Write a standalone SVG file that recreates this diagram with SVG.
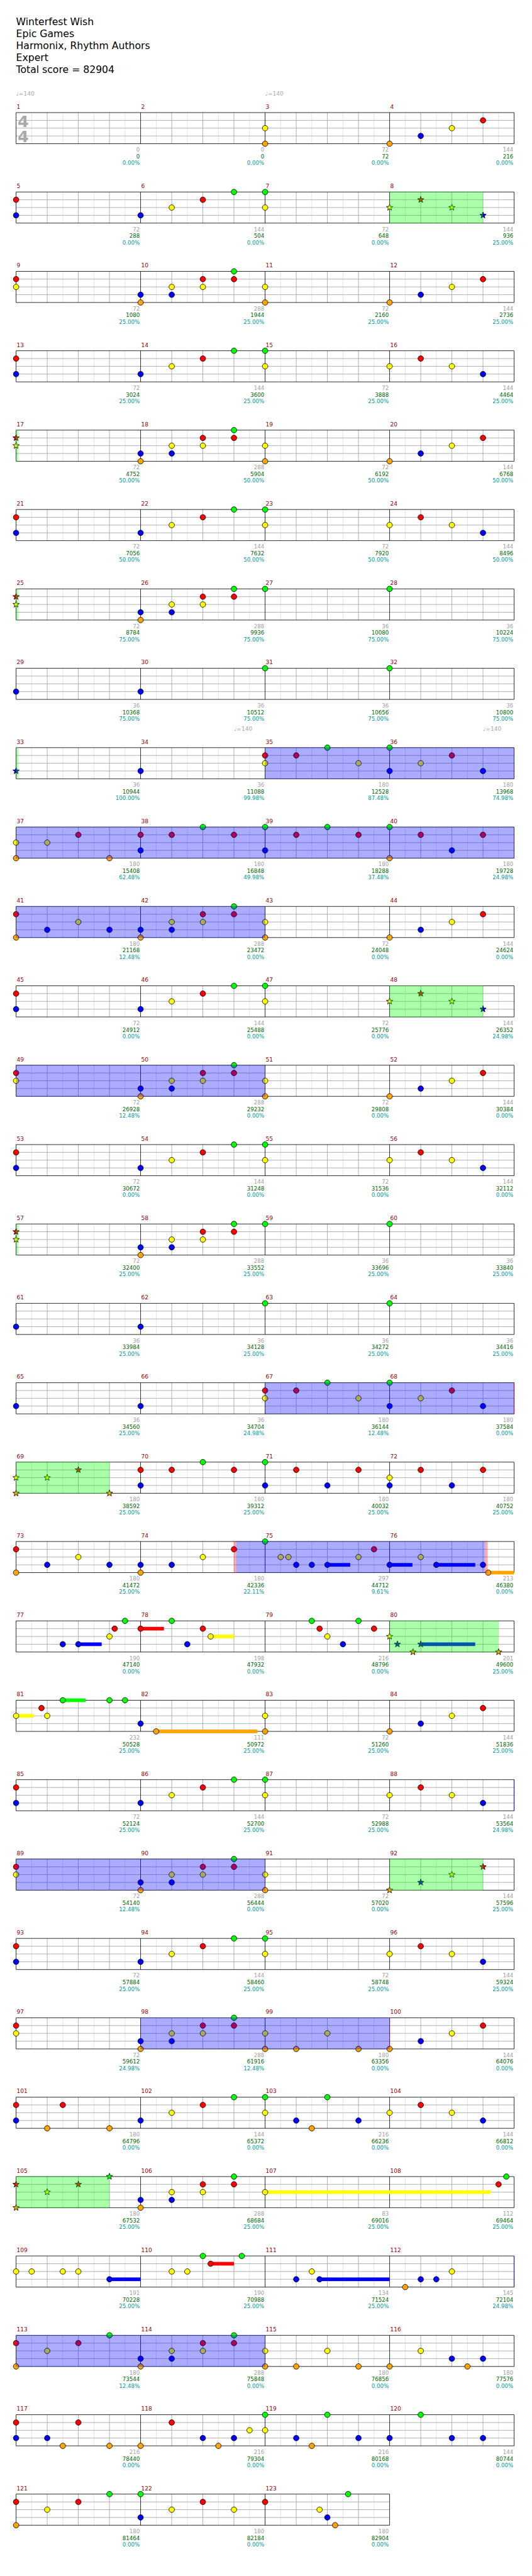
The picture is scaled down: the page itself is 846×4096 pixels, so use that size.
<svg xmlns="http://www.w3.org/2000/svg" width="846" height="4096" viewBox="0 0 846 4096">
<style>
text{font-family:"DejaVu Sans",Verdana,sans-serif}
.t{font-size:19px;fill:#000}
.mn{font-size:11px;fill:#990000}
.n{font-size:10.5px;text-anchor:end}
.a{fill:#a0a0a0}.b{fill:#006600}.c{fill:#009999}
.tp{font-size:11px;fill:#a8a8a8}
.ts{font-size:31px;font-weight:bold;fill:#aaaaaa}
.lt{stroke:#dddddd;stroke-width:1;fill:none}
.gr{stroke:#a0a0a0;stroke-width:1;fill:none}
.bk{stroke:#000;stroke-width:1;fill:none}
.sp{fill:#0000ff;fill-opacity:.33}
.ph{fill:#00ff00;fill-opacity:.33}
.pk{fill:#ff0000;fill-opacity:.33}
</style>
<defs>
<g id="s4">
<path class="lt" d="M30 0V60M90 0V60M150 0V60M210 0V60M270 0V60M330 0V60M390 0V60M450 0V60M510 0V60M570 0V60M630 0V60M690 0V60M750 0V60M810 0V60M870 0V60M930 0V60"/>
<path class="gr" d="M60 0V60M120 0V60M180 0V60M300 0V60M360 0V60M420 0V60M540 0V60M600 0V60M660 0V60M780 0V60M840 0V60M900 0V60M0 15H960M0 30H960M0 45H960"/>
<path class="bk" d="M0 0H960V60H0ZM240 0V60M480 0V60M720 0V60"/>
</g>
<g id="s3">
<path class="lt" d="M30 0V60M90 0V60M150 0V60M210 0V60M270 0V60M330 0V60M390 0V60M450 0V60M510 0V60M570 0V60M630 0V60M690 0V60"/>
<path class="gr" d="M60 0V60M120 0V60M180 0V60M300 0V60M360 0V60M420 0V60M540 0V60M600 0V60M660 0V60M0 15H720M0 30H720M0 45H720"/>
<path class="bk" d="M0 0H720V60H0ZM240 0V60M480 0V60"/>
</g>
<circle id="g" r="5.3" fill="#00ff00" stroke="#000"/>
<circle id="r" r="5.3" fill="#ff0000" stroke="#000"/>
<circle id="y" r="5.3" fill="#ffff00" stroke="#000"/>
<circle id="b" r="5.3" fill="#0000ff" stroke="#000"/>
<circle id="o" r="5.3" fill="#ffa500" stroke="#000"/>
<path id="Sg" fill="#00ff00" stroke="#000" d="M0-6.5L1.59-2.18L6.18-2.01L2.57.83L3.82 5.26L0 2.7L-3.82 5.26L-2.57.83L-6.18-2.01L-1.59-2.18Z"/>
<path id="Sr" fill="#ff0000" stroke="#000" d="M0-6.5L1.59-2.18L6.18-2.01L2.57.83L3.82 5.26L0 2.7L-3.82 5.26L-2.57.83L-6.18-2.01L-1.59-2.18Z"/>
<path id="Sy" fill="#ffff00" stroke="#000" d="M0-6.5L1.59-2.18L6.18-2.01L2.57.83L3.82 5.26L0 2.7L-3.82 5.26L-2.57.83L-6.18-2.01L-1.59-2.18Z"/>
<path id="Sb" fill="#0000ff" stroke="#000" d="M0-6.5L1.59-2.18L6.18-2.01L2.57.83L3.82 5.26L0 2.7L-3.82 5.26L-2.57.83L-6.18-2.01L-1.59-2.18Z"/>
<path id="So" fill="#ffa500" stroke="#000" d="M0-6.5L1.59-2.18L6.18-2.01L2.57.83L3.82 5.26L0 2.7L-3.82 5.26L-2.57.83L-6.18-2.01L-1.59-2.18Z"/>
<g id="P3"><use href="#r" x="0" y="15"/><use href="#b" x="0" y="45"/><use href="#b" x="240" y="45"/><use href="#y" x="300" y="30"/><use href="#r" x="360" y="15"/><use href="#g" x="420" y="0"/><use href="#g" x="480" y="0"/><use href="#y" x="480" y="30"/><use href="#y" x="720" y="30"/><use href="#r" x="780" y="15"/><use href="#y" x="840" y="30"/><use href="#b" x="900" y="45"/></g>
<g id="PC"><use href="#b" x="240" y="45"/><use href="#o" x="240" y="60"/><use href="#y" x="300" y="30"/><use href="#b" x="300" y="45"/><use href="#r" x="360" y="15"/><use href="#y" x="360" y="30"/><use href="#g" x="420" y="0"/><use href="#r" x="420" y="15"/></g>
<g id="PT"><use href="#y" x="480" y="30"/><use href="#o" x="480" y="60"/><use href="#o" x="720" y="60"/><use href="#b" x="780" y="45"/><use href="#y" x="840" y="30"/><use href="#r" x="900" y="15"/></g>
</defs>
<rect width="846" height="4096" fill="#fff"/>
<g transform="scale(0.825)">
<g id="title">
<text class="t" x="31" y="49">Winterfest Wish</text>
<text class="t" x="31" y="72">Epic Games</text>
<text class="t" x="31" y="95">Harmonix, Rhythm Authors</text>
<text class="t" x="31" y="118">Expert</text>
<text class="t" x="31" y="141">Total score = 82904</text>
</g>

<g id="row-0" transform="translate(31,217)">
<use href="#s4"/>
<text class="ts" x="3" y="28">4</text><text class="ts" x="3" y="57">4</text>
<text class="tp" x="0" y="-33">♩=140</text><text class="tp" x="480" y="-33">♩=140</text>
<text class="mn" x="1" y="-7.5">1</text><text class="mn" x="241" y="-7.5">2</text><text class="mn" x="481" y="-7.5">3</text><text class="mn" x="721" y="-7.5">4</text>
<use href="#y" x="480" y="30"/><use href="#o" x="480" y="60"/><use href="#o" x="720" y="60"/><use href="#b" x="780" y="45"/><use href="#y" x="840" y="30"/><use href="#r" x="900" y="15"/>
<text class="n a" x="238.5" y="75.5">0</text><text class="n b" x="238.5" y="88.5">0</text><text class="n c" x="238.5" y="101">0.00%</text>
<text class="n a" x="478.5" y="75.5">0</text><text class="n b" x="478.5" y="88.5">0</text><text class="n c" x="478.5" y="101">0.00%</text>
<text class="n a" x="718.5" y="75.5">72</text><text class="n b" x="718.5" y="88.5">72</text><text class="n c" x="718.5" y="101">0.00%</text>
<text class="n a" x="958.5" y="75.5">144</text><text class="n b" x="958.5" y="88.5">216</text><text class="n c" x="958.5" y="101">0.00%</text>
</g>

<g id="row-1" transform="translate(31,370)">
<use href="#s4"/>
<text class="mn" x="1" y="-7.5">5</text><text class="mn" x="241" y="-7.5">6</text><text class="mn" x="481" y="-7.5">7</text><text class="mn" x="721" y="-7.5">8</text>
<use href="#r" x="0" y="15"/><use href="#b" x="0" y="45"/><use href="#b" x="240" y="45"/><use href="#y" x="300" y="30"/><use href="#r" x="360" y="15"/><use href="#g" x="420" y="0"/><use href="#g" x="480" y="0"/><use href="#y" x="480" y="30"/>
<use href="#Sy" x="720" y="30"/><use href="#Sr" x="780" y="15"/><use href="#Sy" x="840" y="30"/><use href="#Sb" x="900" y="45"/>
<rect class="ph" x="720" y="-0.5" width="180" height="61"/>
<text class="n a" x="238.5" y="75.5">72</text><text class="n b" x="238.5" y="88.5">288</text><text class="n c" x="238.5" y="101">0.00%</text>
<text class="n a" x="478.5" y="75.5">144</text><text class="n b" x="478.5" y="88.5">504</text><text class="n c" x="478.5" y="101">0.00%</text>
<text class="n a" x="718.5" y="75.5">72</text><text class="n b" x="718.5" y="88.5">648</text><text class="n c" x="718.5" y="101">0.00%</text>
<text class="n a" x="958.5" y="75.5">144</text><text class="n b" x="958.5" y="88.5">936</text><text class="n c" x="958.5" y="101">25.00%</text>
</g>

<g id="row-2" transform="translate(31,523)">
<use href="#s4"/>
<text class="mn" x="1" y="-7.5">9</text><text class="mn" x="241" y="-7.5">10</text><text class="mn" x="481" y="-7.5">11</text><text class="mn" x="721" y="-7.5">12</text>
<use href="#r" x="0" y="15"/><use href="#y" x="0" y="30"/><use href="#PC"/><use href="#PT"/>
<text class="n a" x="238.5" y="75.5">72</text><text class="n b" x="238.5" y="88.5">1080</text><text class="n c" x="238.5" y="101">25.00%</text>
<text class="n a" x="478.5" y="75.5">288</text><text class="n b" x="478.5" y="88.5">1944</text><text class="n c" x="478.5" y="101">25.00%</text>
<text class="n a" x="718.5" y="75.5">72</text><text class="n b" x="718.5" y="88.5">2160</text><text class="n c" x="718.5" y="101">25.00%</text>
<text class="n a" x="958.5" y="75.5">144</text><text class="n b" x="958.5" y="88.5">2736</text><text class="n c" x="958.5" y="101">25.00%</text>
</g>

<g id="row-3" transform="translate(31,676)">
<use href="#s4"/>
<text class="mn" x="1" y="-7.5">13</text><text class="mn" x="241" y="-7.5">14</text><text class="mn" x="481" y="-7.5">15</text><text class="mn" x="721" y="-7.5">16</text>
<use href="#P3"/>
<text class="n a" x="238.5" y="75.5">72</text><text class="n b" x="238.5" y="88.5">3024</text><text class="n c" x="238.5" y="101">25.00%</text>
<text class="n a" x="478.5" y="75.5">144</text><text class="n b" x="478.5" y="88.5">3600</text><text class="n c" x="478.5" y="101">25.00%</text>
<text class="n a" x="718.5" y="75.5">72</text><text class="n b" x="718.5" y="88.5">3888</text><text class="n c" x="718.5" y="101">25.00%</text>
<text class="n a" x="958.5" y="75.5">144</text><text class="n b" x="958.5" y="88.5">4464</text><text class="n c" x="958.5" y="101">25.00%</text>
</g>

<g id="row-4" transform="translate(31,829)">
<use href="#s4"/>
<text class="mn" x="1" y="-7.5">17</text><text class="mn" x="241" y="-7.5">18</text><text class="mn" x="481" y="-7.5">19</text><text class="mn" x="721" y="-7.5">20</text>
<use href="#Sr" x="0" y="15"/><use href="#Sy" x="0" y="30"/><use href="#PC"/><use href="#PT"/>
<rect class="ph" x="0" y="-0.5" width="4" height="61"/>
<text class="n a" x="238.5" y="75.5">72</text><text class="n b" x="238.5" y="88.5">4752</text><text class="n c" x="238.5" y="101">50.00%</text>
<text class="n a" x="478.5" y="75.5">288</text><text class="n b" x="478.5" y="88.5">5904</text><text class="n c" x="478.5" y="101">50.00%</text>
<text class="n a" x="718.5" y="75.5">72</text><text class="n b" x="718.5" y="88.5">6192</text><text class="n c" x="718.5" y="101">50.00%</text>
<text class="n a" x="958.5" y="75.5">144</text><text class="n b" x="958.5" y="88.5">6768</text><text class="n c" x="958.5" y="101">50.00%</text>
</g>

<g id="row-5" transform="translate(31,982)">
<use href="#s4"/>
<text class="mn" x="1" y="-7.5">21</text><text class="mn" x="241" y="-7.5">22</text><text class="mn" x="481" y="-7.5">23</text><text class="mn" x="721" y="-7.5">24</text>
<use href="#P3"/>
<text class="n a" x="238.5" y="75.5">72</text><text class="n b" x="238.5" y="88.5">7056</text><text class="n c" x="238.5" y="101">50.00%</text>
<text class="n a" x="478.5" y="75.5">144</text><text class="n b" x="478.5" y="88.5">7632</text><text class="n c" x="478.5" y="101">50.00%</text>
<text class="n a" x="718.5" y="75.5">72</text><text class="n b" x="718.5" y="88.5">7920</text><text class="n c" x="718.5" y="101">50.00%</text>
<text class="n a" x="958.5" y="75.5">144</text><text class="n b" x="958.5" y="88.5">8496</text><text class="n c" x="958.5" y="101">50.00%</text>
</g>

<g id="row-6" transform="translate(31,1135)">
<use href="#s4"/>
<text class="mn" x="1" y="-7.5">25</text><text class="mn" x="241" y="-7.5">26</text><text class="mn" x="481" y="-7.5">27</text><text class="mn" x="721" y="-7.5">28</text>
<use href="#Sr" x="0" y="15"/><use href="#Sy" x="0" y="30"/><use href="#PC"/><use href="#g" x="480" y="0"/><use href="#g" x="720" y="0"/>
<rect class="ph" x="0" y="-0.5" width="4" height="61"/>
<text class="n a" x="238.5" y="75.5">72</text><text class="n b" x="238.5" y="88.5">8784</text><text class="n c" x="238.5" y="101">75.00%</text>
<text class="n a" x="478.5" y="75.5">288</text><text class="n b" x="478.5" y="88.5">9936</text><text class="n c" x="478.5" y="101">75.00%</text>
<text class="n a" x="718.5" y="75.5">36</text><text class="n b" x="718.5" y="88.5">10080</text><text class="n c" x="718.5" y="101">75.00%</text>
<text class="n a" x="958.5" y="75.5">36</text><text class="n b" x="958.5" y="88.5">10224</text><text class="n c" x="958.5" y="101">75.00%</text>
</g>

<g id="row-7" transform="translate(31,1288)">
<use href="#s4"/>
<text class="mn" x="1" y="-7.5">29</text><text class="mn" x="241" y="-7.5">30</text><text class="mn" x="481" y="-7.5">31</text><text class="mn" x="721" y="-7.5">32</text>
<use href="#b" x="0" y="45"/><use href="#b" x="240" y="45"/><use href="#g" x="480" y="0"/><use href="#g" x="720" y="0"/>
<text class="n a" x="238.5" y="75.5">36</text><text class="n b" x="238.5" y="88.5">10368</text><text class="n c" x="238.5" y="101">75.00%</text>
<text class="n a" x="478.5" y="75.5">36</text><text class="n b" x="478.5" y="88.5">10512</text><text class="n c" x="478.5" y="101">75.00%</text>
<text class="n a" x="718.5" y="75.5">36</text><text class="n b" x="718.5" y="88.5">10656</text><text class="n c" x="718.5" y="101">75.00%</text>
<text class="n a" x="958.5" y="75.5">36</text><text class="n b" x="958.5" y="88.5">10800</text><text class="n c" x="958.5" y="101">75.00%</text>
</g>

<g id="row-8" transform="translate(31,1441)">
<use href="#s4"/>
<text class="tp" x="420" y="-33">♩=140</text><text class="tp" x="900" y="-33">♩=140</text>
<text class="mn" x="1" y="-7.5">33</text><text class="mn" x="241" y="-7.5">34</text><text class="mn" x="481" y="-7.5">35</text><text class="mn" x="721" y="-7.5">36</text>
<use href="#Sb" x="0" y="45"/><use href="#b" x="240" y="45"/>
<use href="#r" x="480" y="15"/><use href="#y" x="480" y="30"/><use href="#r" x="540" y="15"/><use href="#g" x="600" y="0"/><use href="#y" x="660" y="30"/><use href="#g" x="720" y="0"/><use href="#b" x="720" y="45"/><use href="#y" x="780" y="30"/><use href="#r" x="840" y="15"/><use href="#b" x="900" y="45"/>
<rect class="ph" x="0" y="-0.5" width="4" height="61"/>
<rect class="sp" x="480" y="-0.5" width="480" height="61"/>
<text class="n a" x="238.5" y="75.5">36</text><text class="n b" x="238.5" y="88.5">10944</text><text class="n c" x="238.5" y="101">100.00%</text>
<text class="n a" x="478.5" y="75.5">36</text><text class="n b" x="478.5" y="88.5">11088</text><text class="n c" x="478.5" y="101">99.98%</text>
<text class="n a" x="718.5" y="75.5">180</text><text class="n b" x="718.5" y="88.5">12528</text><text class="n c" x="718.5" y="101">87.48%</text>
<text class="n a" x="958.5" y="75.5">180</text><text class="n b" x="958.5" y="88.5">13968</text><text class="n c" x="958.5" y="101">74.98%</text>
</g>

<g id="row-9" transform="translate(31,1594)">
<use href="#s4"/>
<text class="mn" x="1" y="-7.5">37</text><text class="mn" x="241" y="-7.5">38</text><text class="mn" x="481" y="-7.5">39</text><text class="mn" x="721" y="-7.5">40</text>
<use href="#y" x="0" y="30"/><use href="#o" x="0" y="60"/><use href="#y" x="60" y="30"/><use href="#r" x="120" y="15"/><use href="#o" x="180" y="60"/><use href="#r" x="240" y="15"/><use href="#b" x="240" y="45"/><use href="#r" x="300" y="15"/><use href="#g" x="360" y="0"/><use href="#r" x="420" y="15"/><use href="#g" x="480" y="0"/><use href="#b" x="480" y="45"/><use href="#r" x="540" y="15"/><use href="#g" x="600" y="0"/><use href="#r" x="660" y="15"/><use href="#g" x="720" y="0"/><use href="#o" x="720" y="60"/><use href="#r" x="780" y="15"/><use href="#b" x="840" y="45"/><use href="#r" x="900" y="15"/>
<rect class="sp" x="0" y="-0.5" width="960" height="61"/>
<text class="n a" x="238.5" y="75.5">180</text><text class="n b" x="238.5" y="88.5">15408</text><text class="n c" x="238.5" y="101">62.48%</text>
<text class="n a" x="478.5" y="75.5">180</text><text class="n b" x="478.5" y="88.5">16848</text><text class="n c" x="478.5" y="101">49.98%</text>
<text class="n a" x="718.5" y="75.5">180</text><text class="n b" x="718.5" y="88.5">18288</text><text class="n c" x="718.5" y="101">37.48%</text>
<text class="n a" x="958.5" y="75.5">180</text><text class="n b" x="958.5" y="88.5">19728</text><text class="n c" x="958.5" y="101">24.98%</text>
</g>

<g id="row-10" transform="translate(31,1747)">
<use href="#s4"/>
<text class="mn" x="1" y="-7.5">41</text><text class="mn" x="241" y="-7.5">42</text><text class="mn" x="481" y="-7.5">43</text><text class="mn" x="721" y="-7.5">44</text>
<use href="#r" x="0" y="15"/><use href="#o" x="0" y="60"/><use href="#b" x="60" y="45"/><use href="#y" x="120" y="30"/><use href="#b" x="180" y="45"/><use href="#PC"/><use href="#PT"/>
<rect class="sp" x="0" y="-0.5" width="480" height="61"/>
<text class="n a" x="238.5" y="75.5">180</text><text class="n b" x="238.5" y="88.5">21168</text><text class="n c" x="238.5" y="101">12.48%</text>
<text class="n a" x="478.5" y="75.5">288</text><text class="n b" x="478.5" y="88.5">23472</text><text class="n c" x="478.5" y="101">0.00%</text>
<text class="n a" x="718.5" y="75.5">72</text><text class="n b" x="718.5" y="88.5">24048</text><text class="n c" x="718.5" y="101">0.00%</text>
<text class="n a" x="958.5" y="75.5">144</text><text class="n b" x="958.5" y="88.5">24624</text><text class="n c" x="958.5" y="101">0.00%</text>
</g>

<g id="row-11" transform="translate(31,1900)">
<use href="#s4"/>
<text class="mn" x="1" y="-7.5">45</text><text class="mn" x="241" y="-7.5">46</text><text class="mn" x="481" y="-7.5">47</text><text class="mn" x="721" y="-7.5">48</text>
<use href="#r" x="0" y="15"/><use href="#b" x="0" y="45"/><use href="#b" x="240" y="45"/><use href="#y" x="300" y="30"/><use href="#r" x="360" y="15"/><use href="#g" x="420" y="0"/><use href="#g" x="480" y="0"/><use href="#y" x="480" y="30"/>
<use href="#Sy" x="720" y="30"/><use href="#Sr" x="780" y="15"/><use href="#Sy" x="840" y="30"/><use href="#Sb" x="900" y="45"/>
<rect class="ph" x="720" y="-0.5" width="180" height="61"/>
<text class="n a" x="238.5" y="75.5">72</text><text class="n b" x="238.5" y="88.5">24912</text><text class="n c" x="238.5" y="101">0.00%</text>
<text class="n a" x="478.5" y="75.5">144</text><text class="n b" x="478.5" y="88.5">25488</text><text class="n c" x="478.5" y="101">0.00%</text>
<text class="n a" x="718.5" y="75.5">72</text><text class="n b" x="718.5" y="88.5">25776</text><text class="n c" x="718.5" y="101">0.00%</text>
<text class="n a" x="958.5" y="75.5">144</text><text class="n b" x="958.5" y="88.5">26352</text><text class="n c" x="958.5" y="101">24.98%</text>
</g>

<g id="row-12" transform="translate(31,2053)">
<use href="#s4"/>
<text class="mn" x="1" y="-7.5">49</text><text class="mn" x="241" y="-7.5">50</text><text class="mn" x="481" y="-7.5">51</text><text class="mn" x="721" y="-7.5">52</text>
<use href="#r" x="0" y="15"/><use href="#y" x="0" y="30"/><use href="#PC"/><use href="#PT"/>
<rect class="sp" x="0" y="-0.5" width="480" height="61"/>
<text class="n a" x="238.5" y="75.5">72</text><text class="n b" x="238.5" y="88.5">26928</text><text class="n c" x="238.5" y="101">12.48%</text>
<text class="n a" x="478.5" y="75.5">288</text><text class="n b" x="478.5" y="88.5">29232</text><text class="n c" x="478.5" y="101">0.00%</text>
<text class="n a" x="718.5" y="75.5">72</text><text class="n b" x="718.5" y="88.5">29808</text><text class="n c" x="718.5" y="101">0.00%</text>
<text class="n a" x="958.5" y="75.5">144</text><text class="n b" x="958.5" y="88.5">30384</text><text class="n c" x="958.5" y="101">0.00%</text>
</g>

<g id="row-13" transform="translate(31,2206)">
<use href="#s4"/>
<text class="mn" x="1" y="-7.5">53</text><text class="mn" x="241" y="-7.5">54</text><text class="mn" x="481" y="-7.5">55</text><text class="mn" x="721" y="-7.5">56</text>
<use href="#P3"/>
<text class="n a" x="238.5" y="75.5">72</text><text class="n b" x="238.5" y="88.5">30672</text><text class="n c" x="238.5" y="101">0.00%</text>
<text class="n a" x="478.5" y="75.5">144</text><text class="n b" x="478.5" y="88.5">31248</text><text class="n c" x="478.5" y="101">0.00%</text>
<text class="n a" x="718.5" y="75.5">72</text><text class="n b" x="718.5" y="88.5">31536</text><text class="n c" x="718.5" y="101">0.00%</text>
<text class="n a" x="958.5" y="75.5">144</text><text class="n b" x="958.5" y="88.5">32112</text><text class="n c" x="958.5" y="101">0.00%</text>
</g>

<g id="row-14" transform="translate(31,2359)">
<use href="#s4"/>
<text class="mn" x="1" y="-7.5">57</text><text class="mn" x="241" y="-7.5">58</text><text class="mn" x="481" y="-7.5">59</text><text class="mn" x="721" y="-7.5">60</text>
<use href="#Sr" x="0" y="15"/><use href="#Sy" x="0" y="30"/><use href="#PC"/><use href="#g" x="480" y="0"/><use href="#g" x="720" y="0"/>
<rect class="ph" x="0" y="-0.5" width="4" height="61"/>
<text class="n a" x="238.5" y="75.5">72</text><text class="n b" x="238.5" y="88.5">32400</text><text class="n c" x="238.5" y="101">25.00%</text>
<text class="n a" x="478.5" y="75.5">288</text><text class="n b" x="478.5" y="88.5">33552</text><text class="n c" x="478.5" y="101">25.00%</text>
<text class="n a" x="718.5" y="75.5">36</text><text class="n b" x="718.5" y="88.5">33696</text><text class="n c" x="718.5" y="101">25.00%</text>
<text class="n a" x="958.5" y="75.5">36</text><text class="n b" x="958.5" y="88.5">33840</text><text class="n c" x="958.5" y="101">25.00%</text>
</g>

<g id="row-15" transform="translate(31,2512)">
<use href="#s4"/>
<text class="mn" x="1" y="-7.5">61</text><text class="mn" x="241" y="-7.5">62</text><text class="mn" x="481" y="-7.5">63</text><text class="mn" x="721" y="-7.5">64</text>
<use href="#b" x="0" y="45"/><use href="#b" x="240" y="45"/><use href="#g" x="480" y="0"/><use href="#g" x="720" y="0"/>
<text class="n a" x="238.5" y="75.5">36</text><text class="n b" x="238.5" y="88.5">33984</text><text class="n c" x="238.5" y="101">25.00%</text>
<text class="n a" x="478.5" y="75.5">36</text><text class="n b" x="478.5" y="88.5">34128</text><text class="n c" x="478.5" y="101">25.00%</text>
<text class="n a" x="718.5" y="75.5">36</text><text class="n b" x="718.5" y="88.5">34272</text><text class="n c" x="718.5" y="101">25.00%</text>
<text class="n a" x="958.5" y="75.5">36</text><text class="n b" x="958.5" y="88.5">34416</text><text class="n c" x="958.5" y="101">25.00%</text>
</g>

<g id="row-16" transform="translate(31,2665)">
<use href="#s4"/>
<text class="mn" x="1" y="-7.5">65</text><text class="mn" x="241" y="-7.5">66</text><text class="mn" x="481" y="-7.5">67</text><text class="mn" x="721" y="-7.5">68</text>
<use href="#b" x="0" y="45"/><use href="#b" x="240" y="45"/>
<use href="#r" x="480" y="15"/><use href="#y" x="480" y="30"/><use href="#r" x="540" y="15"/><use href="#g" x="600" y="0"/><use href="#y" x="660" y="30"/><use href="#g" x="720" y="0"/><use href="#b" x="720" y="45"/><use href="#y" x="780" y="30"/><use href="#r" x="840" y="15"/><use href="#b" x="900" y="45"/>
<rect class="sp" x="480" y="-0.5" width="480" height="61"/>
<rect class="pk" x="959" y="-0.5" width="2" height="61"/>
<text class="n a" x="238.5" y="75.5">36</text><text class="n b" x="238.5" y="88.5">34560</text><text class="n c" x="238.5" y="101">25.00%</text>
<text class="n a" x="478.5" y="75.5">36</text><text class="n b" x="478.5" y="88.5">34704</text><text class="n c" x="478.5" y="101">24.98%</text>
<text class="n a" x="718.5" y="75.5">180</text><text class="n b" x="718.5" y="88.5">36144</text><text class="n c" x="718.5" y="101">12.48%</text>
<text class="n a" x="958.5" y="75.5">180</text><text class="n b" x="958.5" y="88.5">37584</text><text class="n c" x="958.5" y="101">0.00%</text>
</g>

<g id="row-17" transform="translate(31,2818)">
<use href="#s4"/>
<text class="mn" x="1" y="-7.5">69</text><text class="mn" x="241" y="-7.5">70</text><text class="mn" x="481" y="-7.5">71</text><text class="mn" x="721" y="-7.5">72</text>
<use href="#Sy" x="0" y="30"/><use href="#So" x="0" y="60"/><use href="#Sy" x="60" y="30"/><use href="#Sr" x="120" y="15"/><use href="#So" x="180" y="60"/>
<use href="#r" x="240" y="15"/><use href="#b" x="240" y="45"/><use href="#r" x="300" y="15"/><use href="#g" x="360" y="0"/><use href="#r" x="420" y="15"/><use href="#g" x="480" y="0"/><use href="#b" x="480" y="45"/><use href="#r" x="540" y="15"/><use href="#b" x="600" y="45"/><use href="#r" x="660" y="15"/><use href="#y" x="720" y="30"/><use href="#b" x="720" y="45"/><use href="#r" x="780" y="15"/><use href="#b" x="840" y="45"/><use href="#r" x="900" y="15"/>
<rect class="ph" x="0" y="-0.5" width="180" height="61"/>
<text class="n a" x="238.5" y="75.5">180</text><text class="n b" x="238.5" y="88.5">38592</text><text class="n c" x="238.5" y="101">25.00%</text>
<text class="n a" x="478.5" y="75.5">180</text><text class="n b" x="478.5" y="88.5">39312</text><text class="n c" x="478.5" y="101">25.00%</text>
<text class="n a" x="718.5" y="75.5">180</text><text class="n b" x="718.5" y="88.5">40032</text><text class="n c" x="718.5" y="101">25.00%</text>
<text class="n a" x="958.5" y="75.5">180</text><text class="n b" x="958.5" y="88.5">40752</text><text class="n c" x="958.5" y="101">25.00%</text>
</g>

<g id="row-18" transform="translate(31,2971)">
<use href="#s4"/>
<text class="mn" x="1" y="-7.5">73</text><text class="mn" x="241" y="-7.5">74</text><text class="mn" x="481" y="-7.5">75</text><text class="mn" x="721" y="-7.5">76</text>
<rect x="600" y="41.5" width="44" height="7" fill="#0000ff"/><rect x="720" y="41.5" width="44" height="7" fill="#0000ff"/><rect x="810" y="41.5" width="75" height="7" fill="#0000ff"/><rect x="910" y="56.5" width="50" height="7" fill="#ffa500"/>
<use href="#r" x="0" y="15"/><use href="#o" x="0" y="60"/><use href="#b" x="60" y="45"/><use href="#y" x="120" y="30"/><use href="#b" x="180" y="45"/><use href="#b" x="240" y="45"/><use href="#o" x="240" y="60"/><use href="#b" x="300" y="45"/><use href="#y" x="360" y="30"/><use href="#r" x="420" y="15"/>
<use href="#g" x="480" y="0"/><use href="#y" x="510" y="30"/><use href="#y" x="525" y="30"/><use href="#b" x="540" y="45"/><use href="#b" x="570" y="45"/><use href="#b" x="600" y="45"/><use href="#y" x="660" y="30"/><use href="#r" x="690" y="15"/><use href="#b" x="720" y="45"/><use href="#y" x="780" y="30"/><use href="#b" x="810" y="45"/><use href="#b" x="900" y="45"/><use href="#o" x="910" y="60"/>
<rect class="pk" x="420" y="-0.5" width="4" height="61"/>
<rect class="sp" x="424" y="-0.5" width="480" height="61"/>
<rect class="pk" x="904" y="-0.5" width="5" height="61"/>
<text class="n a" x="238.5" y="75.5">180</text><text class="n b" x="238.5" y="88.5">41472</text><text class="n c" x="238.5" y="101">25.00%</text>
<text class="n a" x="478.5" y="75.5">180</text><text class="n b" x="478.5" y="88.5">42336</text><text class="n c" x="478.5" y="101">22.11%</text>
<text class="n a" x="718.5" y="75.5">297</text><text class="n b" x="718.5" y="88.5">44712</text><text class="n c" x="718.5" y="101">9.61%</text>
<text class="n a" x="958.5" y="75.5">213</text><text class="n b" x="958.5" y="88.5">46380</text><text class="n c" x="958.5" y="101">0.00%</text>
</g>

<g id="row-19" transform="translate(31,3124)">
<use href="#s4"/>
<text class="mn" x="1" y="-7.5">77</text><text class="mn" x="241" y="-7.5">78</text><text class="mn" x="481" y="-7.5">79</text><text class="mn" x="721" y="-7.5">80</text>
<rect x="120" y="41.5" width="45" height="7" fill="#0000ff"/><rect x="240" y="11.5" width="45" height="7" fill="#ff0000"/><rect x="375" y="26.5" width="45" height="7" fill="#ffff00"/><rect x="780" y="41.5" width="105" height="7" fill="#0000ff"/>
<use href="#b" x="90" y="45"/><use href="#b" x="120" y="45"/><use href="#y" x="180" y="30"/><use href="#r" x="190" y="15"/><use href="#g" x="210" y="0"/><use href="#r" x="240" y="15"/><use href="#g" x="300" y="0"/><use href="#b" x="330" y="45"/><use href="#r" x="360" y="15"/><use href="#y" x="375" y="30"/>
<use href="#g" x="570" y="0"/><use href="#r" x="585" y="15"/><use href="#y" x="600" y="30"/><use href="#b" x="630" y="45"/><use href="#g" x="660" y="0"/><use href="#r" x="690" y="15"/>
<use href="#Sy" x="720" y="30"/><use href="#Sb" x="735" y="45"/><use href="#So" x="765" y="60"/><use href="#Sb" x="780" y="45"/><use href="#So" x="930" y="60"/>
<rect class="ph" x="720" y="-0.5" width="210" height="61"/>
<text class="n a" x="238.5" y="75.5">190</text><text class="n b" x="238.5" y="88.5">47140</text><text class="n c" x="238.5" y="101">0.00%</text>
<text class="n a" x="478.5" y="75.5">198</text><text class="n b" x="478.5" y="88.5">47932</text><text class="n c" x="478.5" y="101">0.00%</text>
<text class="n a" x="718.5" y="75.5">216</text><text class="n b" x="718.5" y="88.5">48796</text><text class="n c" x="718.5" y="101">0.00%</text>
<text class="n a" x="958.5" y="75.5">201</text><text class="n b" x="958.5" y="88.5">49600</text><text class="n c" x="958.5" y="101">25.00%</text>
</g>

<g id="row-20" transform="translate(31,3277)">
<use href="#s4"/>
<text class="mn" x="1" y="-7.5">81</text><text class="mn" x="241" y="-7.5">82</text><text class="mn" x="481" y="-7.5">83</text><text class="mn" x="721" y="-7.5">84</text>
<rect x="0" y="26.5" width="34" height="7" fill="#ffff00"/><rect x="90" y="-3.5" width="44" height="7" fill="#00ff00"/><rect x="270" y="56.5" width="195" height="7" fill="#ffa500"/>
<use href="#y" x="0" y="30"/><use href="#r" x="49" y="15"/><use href="#y" x="60" y="30"/><use href="#g" x="90" y="0"/><use href="#g" x="180" y="0"/><use href="#g" x="210" y="0"/><use href="#b" x="240" y="45"/><use href="#o" x="270" y="60"/>
<use href="#y" x="480" y="30"/><use href="#o" x="480" y="60"/><use href="#o" x="720" y="60"/><use href="#b" x="780" y="45"/><use href="#y" x="840" y="30"/><use href="#r" x="900" y="15"/>
<text class="n a" x="238.5" y="75.5">232</text><text class="n b" x="238.5" y="88.5">50528</text><text class="n c" x="238.5" y="101">25.00%</text>
<text class="n a" x="478.5" y="75.5">111</text><text class="n b" x="478.5" y="88.5">50972</text><text class="n c" x="478.5" y="101">25.00%</text>
<text class="n a" x="718.5" y="75.5">72</text><text class="n b" x="718.5" y="88.5">51260</text><text class="n c" x="718.5" y="101">25.00%</text>
<text class="n a" x="958.5" y="75.5">144</text><text class="n b" x="958.5" y="88.5">51836</text><text class="n c" x="958.5" y="101">25.00%</text>
</g>

<g id="row-21" transform="translate(31,3430)">
<use href="#s4"/>
<text class="mn" x="1" y="-7.5">85</text><text class="mn" x="241" y="-7.5">86</text><text class="mn" x="481" y="-7.5">87</text><text class="mn" x="721" y="-7.5">88</text>
<use href="#P3"/>
<rect class="sp" x="959" y="-0.5" width="2" height="61"/>
<text class="n a" x="238.5" y="75.5">72</text><text class="n b" x="238.5" y="88.5">52124</text><text class="n c" x="238.5" y="101">25.00%</text>
<text class="n a" x="478.5" y="75.5">144</text><text class="n b" x="478.5" y="88.5">52700</text><text class="n c" x="478.5" y="101">25.00%</text>
<text class="n a" x="718.5" y="75.5">72</text><text class="n b" x="718.5" y="88.5">52988</text><text class="n c" x="718.5" y="101">25.00%</text>
<text class="n a" x="958.5" y="75.5">144</text><text class="n b" x="958.5" y="88.5">53564</text><text class="n c" x="958.5" y="101">24.98%</text>
</g>

<g id="row-22" transform="translate(31,3583)">
<use href="#s4"/>
<text class="mn" x="1" y="-7.5">89</text><text class="mn" x="241" y="-7.5">90</text><text class="mn" x="481" y="-7.5">91</text><text class="mn" x="721" y="-7.5">92</text>
<use href="#r" x="0" y="15"/><use href="#y" x="0" y="30"/><use href="#PC"/><use href="#y" x="480" y="30"/><use href="#o" x="480" y="60"/>
<use href="#So" x="720" y="60"/><use href="#Sb" x="780" y="45"/><use href="#Sy" x="840" y="30"/><use href="#Sr" x="900" y="15"/>
<rect class="sp" x="0" y="-0.5" width="480" height="61"/>
<rect class="ph" x="720" y="-0.5" width="180" height="61"/>
<text class="n a" x="238.5" y="75.5">72</text><text class="n b" x="238.5" y="88.5">54140</text><text class="n c" x="238.5" y="101">12.48%</text>
<text class="n a" x="478.5" y="75.5">288</text><text class="n b" x="478.5" y="88.5">56444</text><text class="n c" x="478.5" y="101">0.00%</text>
<text class="n a" x="718.5" y="75.5">72</text><text class="n b" x="718.5" y="88.5">57020</text><text class="n c" x="718.5" y="101">0.00%</text>
<text class="n a" x="958.5" y="75.5">144</text><text class="n b" x="958.5" y="88.5">57596</text><text class="n c" x="958.5" y="101">25.00%</text>
</g>

<g id="row-23" transform="translate(31,3736)">
<use href="#s4"/>
<text class="mn" x="1" y="-7.5">93</text><text class="mn" x="241" y="-7.5">94</text><text class="mn" x="481" y="-7.5">95</text><text class="mn" x="721" y="-7.5">96</text>
<use href="#P3"/>
<text class="n a" x="238.5" y="75.5">72</text><text class="n b" x="238.5" y="88.5">57884</text><text class="n c" x="238.5" y="101">25.00%</text>
<text class="n a" x="478.5" y="75.5">144</text><text class="n b" x="478.5" y="88.5">58460</text><text class="n c" x="478.5" y="101">25.00%</text>
<text class="n a" x="718.5" y="75.5">72</text><text class="n b" x="718.5" y="88.5">58748</text><text class="n c" x="718.5" y="101">25.00%</text>
<text class="n a" x="958.5" y="75.5">144</text><text class="n b" x="958.5" y="88.5">59324</text><text class="n c" x="958.5" y="101">25.00%</text>
</g>

<g id="row-24" transform="translate(31,3889)">
<use href="#s4"/>
<text class="mn" x="1" y="-7.5">97</text><text class="mn" x="241" y="-7.5">98</text><text class="mn" x="481" y="-7.5">99</text><text class="mn" x="721" y="-7.5">100</text>
<use href="#r" x="0" y="15"/><use href="#y" x="0" y="30"/><use href="#PC"/><use href="#y" x="480" y="30"/><use href="#o" x="480" y="60"/><use href="#o" x="540" y="60"/><use href="#y" x="600" y="30"/><use href="#o" x="660" y="60"/><use href="#o" x="720" y="60"/><use href="#b" x="780" y="45"/><use href="#y" x="840" y="30"/><use href="#r" x="900" y="15"/>
<rect class="sp" x="240" y="-0.5" width="480" height="61"/>
<rect class="pk" x="719.5" y="-0.5" width="1.5" height="61"/>
<text class="n a" x="238.5" y="75.5">72</text><text class="n b" x="238.5" y="88.5">59612</text><text class="n c" x="238.5" y="101">24.98%</text>
<text class="n a" x="478.5" y="75.5">288</text><text class="n b" x="478.5" y="88.5">61916</text><text class="n c" x="478.5" y="101">12.48%</text>
<text class="n a" x="718.5" y="75.5">180</text><text class="n b" x="718.5" y="88.5">63356</text><text class="n c" x="718.5" y="101">0.00%</text>
<text class="n a" x="958.5" y="75.5">144</text><text class="n b" x="958.5" y="88.5">64076</text><text class="n c" x="958.5" y="101">0.00%</text>
</g>

<g id="row-25" transform="translate(31,4042)">
<use href="#s4"/>
<text class="mn" x="1" y="-7.5">101</text><text class="mn" x="241" y="-7.5">102</text><text class="mn" x="481" y="-7.5">103</text><text class="mn" x="721" y="-7.5">104</text>
<use href="#r" x="0" y="15"/><use href="#b" x="0" y="45"/><use href="#o" x="60" y="60"/><use href="#r" x="90" y="15"/><use href="#o" x="180" y="60"/><use href="#b" x="240" y="45"/><use href="#y" x="300" y="30"/><use href="#r" x="360" y="15"/><use href="#g" x="420" y="0"/><use href="#g" x="480" y="0"/><use href="#y" x="480" y="30"/><use href="#b" x="540" y="45"/><use href="#o" x="570" y="60"/><use href="#g" x="600" y="0"/><use href="#b" x="660" y="45"/><use href="#y" x="720" y="30"/><use href="#r" x="780" y="15"/><use href="#y" x="840" y="30"/><use href="#b" x="900" y="45"/>
<text class="n a" x="238.5" y="75.5">180</text><text class="n b" x="238.5" y="88.5">64796</text><text class="n c" x="238.5" y="101">0.00%</text>
<text class="n a" x="478.5" y="75.5">144</text><text class="n b" x="478.5" y="88.5">65372</text><text class="n c" x="478.5" y="101">0.00%</text>
<text class="n a" x="718.5" y="75.5">216</text><text class="n b" x="718.5" y="88.5">66236</text><text class="n c" x="718.5" y="101">0.00%</text>
<text class="n a" x="958.5" y="75.5">144</text><text class="n b" x="958.5" y="88.5">66812</text><text class="n c" x="958.5" y="101">0.00%</text>
</g>

<g id="row-26" transform="translate(31,4195)">
<use href="#s4"/>
<text class="mn" x="1" y="-7.5">105</text><text class="mn" x="241" y="-7.5">106</text><text class="mn" x="481" y="-7.5">107</text><text class="mn" x="721" y="-7.5">108</text>
<rect x="480" y="26.5" width="435" height="7" fill="#ffff00"/>
<use href="#Sr" x="0" y="15"/><use href="#So" x="0" y="60"/><use href="#Sy" x="60" y="30"/><use href="#Sr" x="120" y="15"/><use href="#Sg" x="180" y="0"/>
<use href="#PC"/><use href="#y" x="480" y="30"/><use href="#r" x="930" y="15"/><use href="#g" x="945" y="0"/>
<rect class="ph" x="0" y="-0.5" width="180" height="61"/>
<text class="n a" x="238.5" y="75.5">180</text><text class="n b" x="238.5" y="88.5">67532</text><text class="n c" x="238.5" y="101">25.00%</text>
<text class="n a" x="478.5" y="75.5">288</text><text class="n b" x="478.5" y="88.5">68684</text><text class="n c" x="478.5" y="101">25.00%</text>
<text class="n a" x="718.5" y="75.5">83</text><text class="n b" x="718.5" y="88.5">69016</text><text class="n c" x="718.5" y="101">25.00%</text>
<text class="n a" x="958.5" y="75.5">112</text><text class="n b" x="958.5" y="88.5">69464</text><text class="n c" x="958.5" y="101">25.00%</text>
</g>

<g id="row-27" transform="translate(31,4348)">
<use href="#s4"/>
<text class="mn" x="1" y="-7.5">109</text><text class="mn" x="241" y="-7.5">110</text><text class="mn" x="481" y="-7.5">111</text><text class="mn" x="721" y="-7.5">112</text>
<rect x="180" y="41.5" width="60" height="7" fill="#0000ff"/><rect x="375" y="11.5" width="45" height="7" fill="#ff0000"/><rect x="585" y="41.5" width="135" height="7" fill="#0000ff"/>
<use href="#y" x="0" y="30"/><use href="#y" x="30" y="30"/><use href="#y" x="90" y="30"/><use href="#y" x="120" y="30"/><use href="#b" x="180" y="45"/><use href="#y" x="300" y="30"/><use href="#y" x="330" y="30"/><use href="#g" x="360" y="0"/><use href="#r" x="375" y="15"/><use href="#g" x="435" y="0"/><use href="#b" x="540" y="45"/><use href="#y" x="570" y="30"/><use href="#b" x="585" y="45"/><use href="#o" x="750" y="60"/><use href="#b" x="780" y="45"/><use href="#b" x="810" y="45"/><use href="#y" x="840" y="30"/>
<rect class="sp" x="959" y="-0.5" width="2" height="61"/>
<text class="n a" x="238.5" y="75.5">191</text><text class="n b" x="238.5" y="88.5">70228</text><text class="n c" x="238.5" y="101">25.00%</text>
<text class="n a" x="478.5" y="75.5">190</text><text class="n b" x="478.5" y="88.5">70988</text><text class="n c" x="478.5" y="101">25.00%</text>
<text class="n a" x="718.5" y="75.5">134</text><text class="n b" x="718.5" y="88.5">71524</text><text class="n c" x="718.5" y="101">25.00%</text>
<text class="n a" x="958.5" y="75.5">145</text><text class="n b" x="958.5" y="88.5">72104</text><text class="n c" x="958.5" y="101">24.98%</text>
</g>

<g id="row-28" transform="translate(31,4501)">
<use href="#s4"/>
<text class="mn" x="1" y="-7.5">113</text><text class="mn" x="241" y="-7.5">114</text><text class="mn" x="481" y="-7.5">115</text><text class="mn" x="721" y="-7.5">116</text>
<use href="#r" x="0" y="15"/><use href="#o" x="0" y="60"/><use href="#y" x="60" y="30"/><use href="#r" x="120" y="15"/><use href="#g" x="180" y="0"/><use href="#PC"/>
<use href="#y" x="480" y="30"/><use href="#o" x="480" y="60"/><use href="#o" x="540" y="60"/><use href="#y" x="600" y="30"/><use href="#o" x="660" y="60"/><use href="#o" x="720" y="60"/><use href="#y" x="780" y="30"/><use href="#b" x="840" y="45"/><use href="#o" x="870" y="60"/><use href="#b" x="900" y="45"/>
<rect class="sp" x="0" y="-0.5" width="480" height="61"/>
<text class="n a" x="238.5" y="75.5">180</text><text class="n b" x="238.5" y="88.5">73544</text><text class="n c" x="238.5" y="101">12.48%</text>
<text class="n a" x="478.5" y="75.5">288</text><text class="n b" x="478.5" y="88.5">75848</text><text class="n c" x="478.5" y="101">0.00%</text>
<text class="n a" x="718.5" y="75.5">180</text><text class="n b" x="718.5" y="88.5">76856</text><text class="n c" x="718.5" y="101">0.00%</text>
<text class="n a" x="958.5" y="75.5">180</text><text class="n b" x="958.5" y="88.5">77576</text><text class="n c" x="958.5" y="101">0.00%</text>
</g>

<g id="row-29" transform="translate(31,4654)">
<use href="#s4"/>
<text class="mn" x="1" y="-7.5">117</text><text class="mn" x="241" y="-7.5">118</text><text class="mn" x="481" y="-7.5">119</text><text class="mn" x="721" y="-7.5">120</text>
<use href="#r" x="0" y="15"/><use href="#b" x="0" y="45"/><use href="#b" x="60" y="45"/><use href="#o" x="90" y="60"/><use href="#r" x="120" y="15"/><use href="#o" x="180" y="60"/><use href="#o" x="240" y="60"/><use href="#r" x="300" y="15"/><use href="#b" x="360" y="45"/><use href="#o" x="390" y="60"/><use href="#b" x="420" y="45"/><use href="#y" x="450" y="30"/><use href="#g" x="480" y="0"/><use href="#y" x="480" y="30"/><use href="#b" x="540" y="45"/><use href="#o" x="570" y="60"/><use href="#g" x="600" y="0"/><use href="#b" x="660" y="45"/><use href="#b" x="720" y="45"/><use href="#g" x="780" y="0"/><use href="#b" x="840" y="45"/><use href="#b" x="900" y="45"/>
<text class="n a" x="238.5" y="75.5">216</text><text class="n b" x="238.5" y="88.5">78440</text><text class="n c" x="238.5" y="101">0.00%</text>
<text class="n a" x="478.5" y="75.5">216</text><text class="n b" x="478.5" y="88.5">79304</text><text class="n c" x="478.5" y="101">0.00%</text>
<text class="n a" x="718.5" y="75.5">216</text><text class="n b" x="718.5" y="88.5">80168</text><text class="n c" x="718.5" y="101">0.00%</text>
<text class="n a" x="958.5" y="75.5">144</text><text class="n b" x="958.5" y="88.5">80744</text><text class="n c" x="958.5" y="101">0.00%</text>
</g>

<g id="row-30" transform="translate(31,4807)">
<use href="#s3"/>
<text class="mn" x="1" y="-7.5">121</text><text class="mn" x="241" y="-7.5">122</text><text class="mn" x="481" y="-7.5">123</text>
<use href="#r" x="0" y="15"/><use href="#o" x="0" y="60"/><use href="#y" x="60" y="30"/><use href="#r" x="120" y="15"/><use href="#g" x="180" y="0"/><use href="#g" x="240" y="0"/><use href="#b" x="240" y="45"/><use href="#y" x="300" y="30"/><use href="#r" x="360" y="15"/><use href="#y" x="420" y="30"/><use href="#r" x="480" y="15"/><use href="#y" x="585" y="30"/><use href="#b" x="600" y="45"/><use href="#o" x="615" y="60"/><use href="#g" x="640" y="0"/>
<text class="n a" x="238.5" y="75.5">180</text><text class="n b" x="238.5" y="88.5">81464</text><text class="n c" x="238.5" y="101">0.00%</text>
<text class="n a" x="478.5" y="75.5">180</text><text class="n b" x="478.5" y="88.5">82184</text><text class="n c" x="478.5" y="101">0.00%</text>
<text class="n a" x="718.5" y="75.5">180</text><text class="n b" x="718.5" y="88.5">82904</text><text class="n c" x="718.5" y="101">0.00%</text>
</g>
</g>
</svg>
